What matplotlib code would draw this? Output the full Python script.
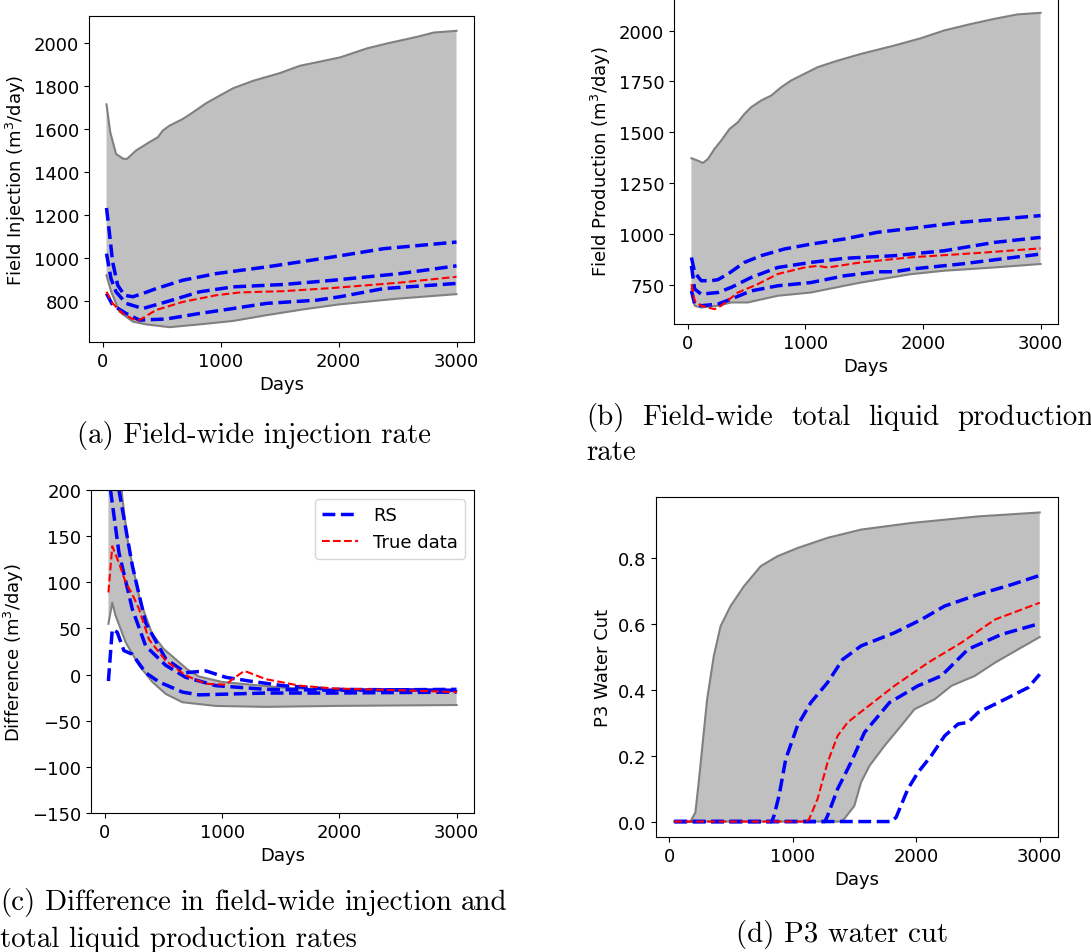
import matplotlib
matplotlib.use("Agg")
import matplotlib.pyplot as plt

# ---------------- (a) field injection ----------------
a_up_x = [30, 62, 111, 173, 204, 281, 395, 466, 508, 565, 678, 764, 877, 991, 1104, 1275, 1502, 1672, 2012, 2240, 2410, 2665, 2807, 3000]
a_up_y = [1716, 1586, 1485, 1462, 1462, 1501, 1540, 1563, 1594, 1617, 1648, 1679, 1722, 1757, 1791, 1826, 1862, 1896, 1935, 1977, 2000, 2031, 2051, 2059]
a_lo_x = [30, 70, 140, 253, 366, 565, 820, 1104, 1388, 1700, 2000, 2500, 3000]
a_lo_y = [919, 842, 749, 703, 690, 677, 690, 706, 733, 760, 783, 810, 831]
a_b1_x = [30, 54, 82, 125, 182, 253, 338, 451, 678, 962, 1388, 1956, 2381, 3000]
a_b1_y = [1233, 1121, 981, 873, 826, 819, 834, 857, 896, 927, 958, 1005, 1043, 1074]
a_b2_x = [30, 68, 111, 196, 338, 536, 820, 1104, 1530, 1956, 2523, 3000]
a_b2_y = [1020, 904, 842, 788, 764, 795, 842, 865, 876, 896, 927, 963]
a_b3_x = [30, 82, 196, 309, 536, 820, 1104, 1388, 1814, 2012, 2381, 3000]
a_b3_y = [834, 780, 741, 710, 715, 741, 764, 788, 803, 819, 857, 881]
a_tr_x = [30, 82, 167, 253, 309, 451, 678, 962, 1161, 1530, 1956, 2523, 3000]
a_tr_y = [842, 788, 741, 715, 710, 757, 795, 826, 839, 845, 860, 885, 912]

# ---------------- (b) field production ----------------
b_up_x = [30, 85, 127, 170, 226, 283, 354, 425, 481, 538, 623, 708, 793, 877, 991, 1104, 1274, 1472, 1755, 1981, 2179, 2377, 2604, 2802, 3000]
b_up_y = [1372, 1360, 1349, 1368, 1418, 1459, 1516, 1549, 1590, 1623, 1656, 1680, 1721, 1754, 1787, 1820, 1852, 1885, 1926, 1962, 2000, 2028, 2057, 2079, 2087]
b_lo_x = [30, 57, 113, 255, 368, 509, 764, 1047, 1330, 1472, 1896, 2179, 2604, 3000]
b_lo_y = [729, 647, 638, 647, 663, 663, 696, 712, 745, 761, 802, 819, 835, 852]
b_b1_x = [30, 57, 113, 198, 255, 340, 481, 623, 821, 1047, 1330, 1613, 1896, 2321, 3000]
b_b1_y = [884, 811, 770, 770, 775, 803, 860, 893, 926, 950, 975, 1008, 1027, 1057, 1090]
b_b2_x = [30, 57, 113, 255, 368, 538, 764, 1047, 1330, 1755, 2179, 2604, 3000]
b_b2_y = [843, 729, 704, 712, 737, 786, 835, 860, 880, 893, 917, 958, 983]
b_b3_x = [30, 57, 113, 255, 368, 538, 764, 1047, 1330, 1613, 1755, 1896, 2321, 3000]
b_b3_y = [720, 655, 647, 655, 680, 720, 745, 761, 794, 814, 814, 827, 852, 901]
b_tr_x = [30, 57, 113, 226, 283, 425, 594, 764, 991, 1104, 1189, 1472, 1896, 2462, 3000]
b_tr_y = [753, 671, 647, 630, 647, 712, 753, 803, 835, 843, 835, 860, 885, 906, 929]

# ---------------- (c) difference ----------------
c_up_x = [30, 60, 100, 150, 200, 300, 400, 500, 600, 700, 800, 1000, 1500, 2000, 3000]
c_up_y = [450, 380, 260, 190, 140, 80, 45, 28, 17, 6, -2, -8, -14, -17, -18]
c_lo_x = [30, 63, 91, 177, 291, 405, 519, 662, 804, 947, 1374, 1945, 3000]
c_lo_y = [55, 78, 64, 35, 10, -8, -21, -30, -32, -34, -35, -34, -33]
c_b1_x = [30, 63, 105, 162, 234, 348, 462, 662, 804, 1089, 1374, 1945, 3000]
c_b1_y = [-7, 49, 46, 26, 22, 2, -8, -19, -22, -21, -20, -20, -19]
c_b2_x = [30, 48, 120, 234, 348, 519, 690, 947, 1374, 1945, 3000]
c_b2_y = [260, 200, 132, 71, 31, 10, -3, -12, -16, -17, -16]
c_b3_x = [30, 120, 234, 348, 519, 690, 861, 1032, 1232, 1517, 1945, 3000]
c_b3_y = [420, 200, 118, 56, 17, 2, 4, -3, -7, -12, -16, -17]
c_tr_x = [30, 63, 120, 177, 234, 291, 376, 519, 690, 861, 1032, 1089, 1189, 1374, 1660, 1945, 2515, 3000]
c_tr_y = [89, 139, 121, 100, 87, 71, 38, 15, -1, -10, -11, -5, 4, -5, -12, -15, -17, -19]

# ---------------- (d) P3 water cut ----------------
d_up_x = [40, 171, 211, 238, 306, 360, 415, 496, 604, 740, 875, 1038, 1282, 1553, 1959, 2501, 3000]
d_up_y = [0, 0, 0.028, 0.119, 0.371, 0.502, 0.593, 0.654, 0.714, 0.775, 0.805, 0.830, 0.861, 0.886, 0.906, 0.926, 0.938]
d_lo_x = [40, 1380, 1417, 1499, 1553, 1621, 1743, 1878, 1986, 2149, 2285, 2474, 2637, 2827, 3000]
d_lo_y = [0, 0, 0.008, 0.048, 0.119, 0.169, 0.230, 0.291, 0.341, 0.371, 0.412, 0.442, 0.482, 0.523, 0.560]
d_b1_x = [40, 830, 848, 889, 943, 1038, 1146, 1282, 1404, 1553, 1824, 2041, 2230, 2501, 2772, 3000]
d_b1_y = [0, 0, 0.018, 0.079, 0.190, 0.291, 0.361, 0.422, 0.492, 0.533, 0.573, 0.613, 0.654, 0.689, 0.719, 0.747]
d_b2_x = [40, 1260, 1282, 1363, 1472, 1580, 1783, 2014, 2203, 2420, 2691, 3000]
d_b2_y = [0, 0, 0.018, 0.099, 0.180, 0.270, 0.361, 0.412, 0.442, 0.523, 0.568, 0.601]
d_b3_x = [40, 1800, 1837, 1932, 2014, 2122, 2230, 2339, 2420, 2501, 2718, 2908, 3000]
d_b3_y = [0, 0, 0.013, 0.099, 0.149, 0.200, 0.260, 0.296, 0.301, 0.331, 0.371, 0.407, 0.447]
d_tr_x = [40, 1110, 1133, 1201, 1282, 1363, 1444, 1580, 1824, 2095, 2366, 2637, 3000]
d_tr_y = [0, 0, 0.008, 0.069, 0.180, 0.260, 0.301, 0.341, 0.412, 0.482, 0.543, 0.613, 0.664]

W, H = 1091, 953
FS = 13
CAP_FS = 20.8
COL_W = 508  # caption line width in px (justified text)


def box(l, t, r, b):
    return [l / W, 1 - b / H, (r - l) / W, (b - t) / H]


def envelope(ax, up_x, up_y, lo_x, lo_y):
    ax.fill(up_x + lo_x[::-1], up_y + lo_y[::-1], color="silver", lw=0)
    ax.plot(up_x, up_y, color="gray", lw=1.5)
    ax.plot(lo_x, lo_y, color="gray", lw=1.5)


def panel(ax, env, blues, true, ylabel):
    envelope(ax, *env)
    for i, (bx, by) in enumerate(blues):
        ax.plot(bx, by, "b--", lw=2.5, label="RS" if i == 0 else None)
    ax.plot(true[0], true[1], "r--", lw=1.5, label="True data")
    ax.set_xlabel("Days", fontsize=FS)
    ax.set_ylabel(ylabel, fontsize=FS)
    ax.tick_params(labelsize=FS)
    ax.set_xticks([0, 1000, 2000, 3000])


fig = plt.figure(figsize=(W / 100, H / 100), dpi=100)

ax_a = fig.add_axes(box(89, 17, 474, 343))
panel(ax_a, (a_up_x, a_up_y, a_lo_x, a_lo_y),
      [(a_b1_x, a_b1_y), (a_b2_x, a_b2_y), (a_b3_x, a_b3_y)],
      (a_tr_x, a_tr_y), "Field Injection (m$^3$/day)")

ax_b = fig.add_axes(box(674, -1, 1058, 325))
panel(ax_b, (b_up_x, b_up_y, b_lo_x, b_lo_y),
      [(b_b1_x, b_b1_y), (b_b2_x, b_b2_y), (b_b3_x, b_b3_y)],
      (b_tr_x, b_tr_y), "Field Production (m$^3$/day)")
ax_b.set_yticks([750, 1000, 1250, 1500, 1750, 2000])

ax_c = fig.add_axes(box(91, 491, 474, 814))
panel(ax_c, (c_up_x, c_up_y, c_lo_x, c_lo_y),
      [(c_b1_x, c_b1_y), (c_b2_x, c_b2_y), (c_b3_x, c_b3_y)],
      (c_tr_x, c_tr_y), "Difference (m$^3$/day)")
ax_c.set_ylim(-150, 200)
ax_c.legend(loc="upper right", fontsize=FS)

ax_d = fig.add_axes(box(656, 498, 1058, 838))
panel(ax_d, (d_up_x, d_up_y, d_lo_x, d_lo_y),
      [(d_b1_x, d_b1_y), (d_b2_x, d_b2_y), (d_b3_x, d_b3_y)],
      (d_tr_x, d_tr_y), "P3 Water Cut")
ax_d.set_yticks([0.0, 0.2, 0.4, 0.6, 0.8])

# LaTeX-like captions
cap = dict(family="cmr10", fontsize=CAP_FS, va="center", ha="left")


def justified(x0, y0, line):
    # spread words over the column width like LaTeX does
    words = line.split()
    texts = [fig.text(0, 1 - y0 / H, w, **cap) for w in words]
    r = fig.canvas.get_renderer()
    widths = [t.get_window_extent(r).width for t in texts]
    gap = (COL_W - sum(widths)) / (len(words) - 1)
    x = x0
    for t, w in zip(texts, widths):
        t.set_x(x / W)
        x += w + gap


fig.text(77 / W, 1 - 436 / H, "(a) Field-wide injection rate", **cap)
justified(586, 418, "(b) Field-wide total liquid production")
fig.text(586 / W, 1 - 453 / H, "rate", **cap)
justified(0, 903, "(c) Difference in field-wide injection and")
fig.text(0, 1 - 940 / H, "total liquid production rates", **cap)
fig.text(736 / W, 1 - 935 / H, "(d) P3 water cut", **cap)

fig.savefig("out.png", dpi=100)
